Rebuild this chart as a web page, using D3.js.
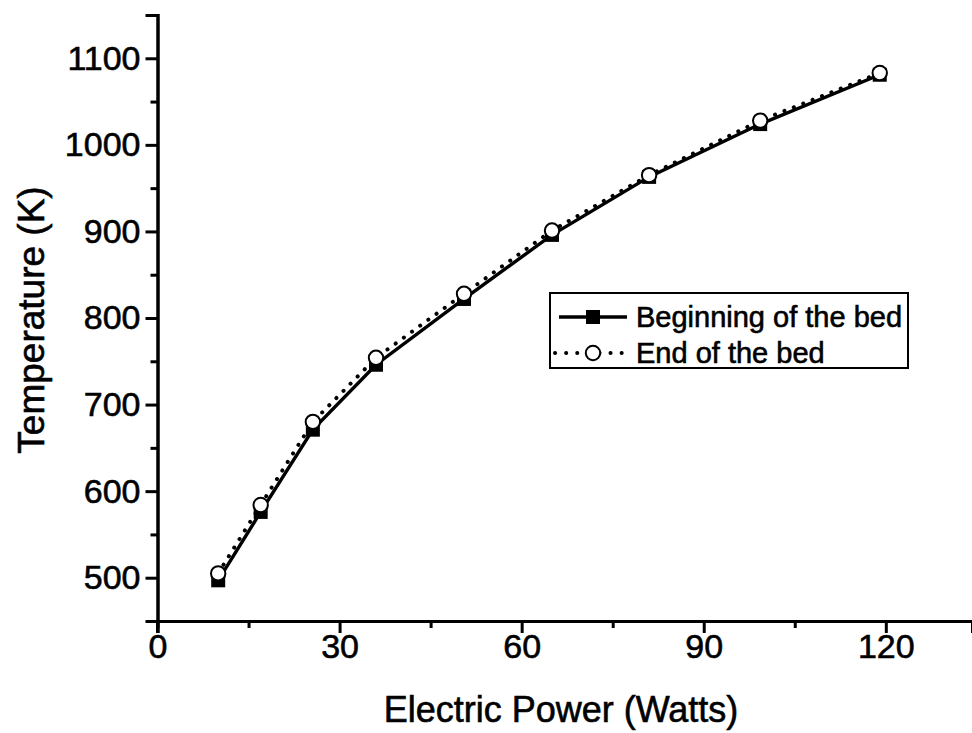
<!DOCTYPE html>
<html><head><meta charset="utf-8">
<script src="https://cdn.jsdelivr.net/npm/d3@7"></script>
<style>body{margin:0;background:#fff;} text{font-family:"Liberation Sans",Arial,sans-serif;fill:#000;stroke:#000;stroke-width:0.6px;}</style>
</head><body>
<svg id="c" width="972" height="733"></svg>
<script>
const power = [10, 17, 25.6, 36, 50.5, 65, 81, 99.3, 119];
const tempBegin = [497, 576, 671, 746, 822, 896, 963, 1024, 1081];
const tempEnd = [505, 584, 680, 754, 828, 901, 965, 1028, 1083];
const seriesNames = ["Beginning of the bed", "End of the bed"];
const xMajor = [0, 30, 60, 90, 120];
const xMinor = [15, 45, 75, 105];
const yMajor = [500, 600, 700, 800, 900, 1000, 1100];
const yMinor = [550, 650, 750, 850, 950, 1050, 1150];

const svg = d3.select("#c");
const x = d3.scaleLinear().domain([0, 134.2]).range([157.5, 972]);
const y = d3.scaleLinear().domain([450, 1150]).range([621, 15]);

// axes
const gx = svg.append("g").attr("transform", `translate(0,${y(450)})`);
gx.call(d3.axisBottom(x).tickValues(xMajor).tickSize(12).tickPadding(1).tickFormat(d3.format("d")));
gx.append("g").call(d3.axisBottom(x).tickValues(xMinor).tickSize(7).tickFormat(""));
const gy = svg.append("g").attr("transform", `translate(${x(0)},0)`);
gy.call(d3.axisLeft(y).tickValues(yMajor).tickSize(12).tickPadding(5).tickFormat(d3.format("d")));
gy.append("g").call(d3.axisLeft(y).tickValues(yMinor).tickSize(7).tickFormat(""));
svg.selectAll(".domain").attr("stroke", "#000").attr("stroke-width", 3);
svg.selectAll(".tick line").attr("stroke", "#000").attr("stroke-width", 3);
svg.selectAll(".tick text").style("font-size", "34px").attr("fill", "#000");
gx.selectAll(".tick text").attr("dy", "0.72em");
// extend y axis slightly below x axis
svg.append("line").attr("x1", x(0)).attr("x2", x(0)).attr("y1", y(450)).attr("y2", y(450) + 12)
  .attr("stroke", "#000").attr("stroke-width", 3);

// axis titles
svg.append("text").attr("x", 561).attr("y", 722).attr("text-anchor", "middle")
  .style("font-size", "36px").text("Electric Power (Watts)");
svg.append("text").attr("transform", "translate(44,320) rotate(-90)").attr("text-anchor", "middle")
  .style("font-size", "37px").text("Temperature (K)");

const d1 = power.map((p, i) => [p, tempBegin[i]]);
const d2 = power.map((p, i) => [p, tempEnd[i]]);
const line = d3.line().x(d => x(d[0])).y(d => y(d[1]));

svg.append("path").attr("d", line(d2)).attr("fill", "none").attr("stroke", "#000")
  .attr("stroke-width", 4).attr("stroke-dasharray", "0.1,10").attr("stroke-linecap", "round");
svg.append("path").attr("d", line(d1)).attr("fill", "none").attr("stroke", "#000").attr("stroke-width", 3.4);

svg.selectAll(".sq").data(d1).enter().append("rect")
  .attr("x", d => x(d[0]) - 7).attr("y", d => y(d[1]) - 7).attr("width", 14).attr("height", 14).attr("fill", "#000");
svg.selectAll(".ci").data(d2).enter().append("circle")
  .attr("cx", d => x(d[0])).attr("cy", d => y(d[1])).attr("r", 7.2)
  .attr("fill", "#fff").attr("stroke", "#000").attr("stroke-width", 2);

// legend
const lg = svg.append("g");
lg.append("rect").attr("x", 550).attr("y", 293).attr("width", 358).attr("height", 75)
  .attr("fill", "#fff").attr("stroke", "#000").attr("stroke-width", 2);
lg.append("line").attr("x1", 559).attr("x2", 627).attr("y1", 317).attr("y2", 317).attr("stroke", "#000").attr("stroke-width", 3.4);
lg.append("rect").attr("x", 586).attr("y", 310).attr("width", 14).attr("height", 14).attr("fill", "#000");
lg.append("line").attr("x1", 555).attr("x2", 627).attr("y1", 353).attr("y2", 353).attr("stroke", "#000")
  .attr("stroke-width", 4).attr("stroke-dasharray", "0.1,11").attr("stroke-linecap", "round");
lg.append("circle").attr("cx", 593).attr("cy", 353).attr("r", 7.2).attr("fill", "#fff").attr("stroke", "#000").attr("stroke-width", 2);
lg.append("text").attr("x", 636).attr("y", 327).style("font-size", "29px").text(seriesNames[0]);
lg.append("text").attr("x", 636).attr("y", 363).style("font-size", "29px").text(seriesNames[1]);
</script>
</body></html>
